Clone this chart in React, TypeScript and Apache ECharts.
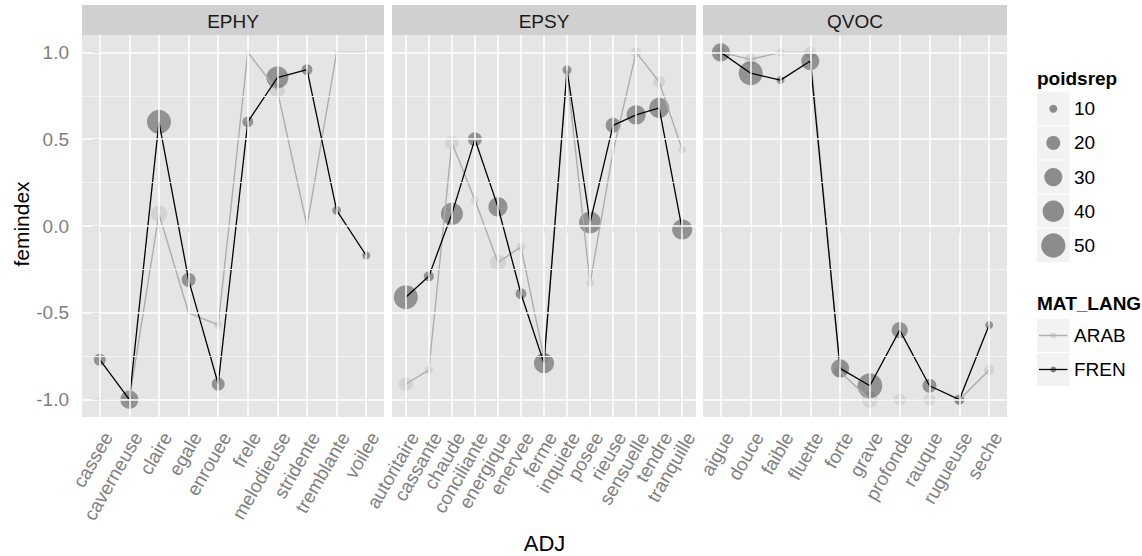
import React, { useEffect, useRef } from 'react';
import * as echarts from 'echarts';

// ---------- data ----------
const panelNames = ['EPHY', 'EPSY', 'QVOC'];
const langs = ['ARAB', 'FREN'];
const sizeBreaks = [10, 20, 30, 40, 50];
const yTicks = [-1, -0.5, 0, 0.5, 1];
const yMinor = [-0.75, -0.25, 0.25, 0.75];

const ephyCats = ['cassee', 'caverneuse', 'claire', 'egale', 'enrouee', 'frele', 'melodieuse', 'stridente', 'tremblante', 'voilee'];
const ephyFren = [-0.77, -1.0, 0.6, -0.31, -0.91, 0.6, 0.855, 0.9, 0.09, -0.17];
const ephyFrenW = [16, 30, 49, 20, 18, 14, 42, 14, 11, 10];
const ephyArab = [-1.0, -1.0, 0.07, -0.5, -0.57, 1.0, 0.78, 0.0, 1.0, 1.0];
const ephyArabW = [7, 10, 25, 7, 10, 7, 22, 7, 7, 6];

const epsyCats = ['autoritaire', 'cassante', 'chaude', 'conciliante', 'energique', 'enervee', 'ferme', 'inquiete', 'posee', 'rieuse', 'sensuelle', 'tendre', 'tranquille'];
const epsyFren = [-0.41, -0.29, 0.07, 0.5, 0.11, -0.39, -0.79, 0.9, 0.02, 0.58, 0.64, 0.68, -0.02];
const epsyFrenW = [49, 13, 42, 20, 33, 14, 36, 11, 42, 22, 33, 36, 36];
const epsyArab = [-0.91, -0.83, 0.48, 0.15, -0.21, -0.12, -0.76, 0.88, -0.33, 0.43, 1.0, 0.83, 0.44];
const epsyArabW = [20, 10, 20, 10, 25, 11, 13, 10, 10, 7, 13, 16, 10];

const qvocCats = ['aigue', 'douce', 'faible', 'fluette', 'forte', 'grave', 'profonde', 'rauque', 'rugueuse', 'seche'];
const qvocFren = [1.0, 0.88, 0.84, 0.95, -0.82, -0.92, -0.6, -0.92, -1.0, -0.57];
const qvocFrenW = [30, 49, 10, 30, 30, 52, 25, 20, 13, 10];
const qvocArab = [1.0, 0.96, 1.0, 1.0, -0.84, -1.0, -1.0, -1.0, -1.0, -0.83];
const qvocArabW = [13, 16, 10, 16, 16, 25, 16, 16, 13, 13];

// ---------- styling ----------
const FONT = '"Liberation Sans", Arial, sans-serif';
const panelBoxes = [
  { left: 82, width: 302 },
  { left: 392, width: 304 },
  { left: 703, width: 304 },
];
const PTOP = 35;
const PH = 382;
const lineColor: Record<string, string> = { ARAB: '#adadad', FREN: '#000000' };
const lineWidth: Record<string, number> = { ARAB: 1.4, FREN: 1.3 };
const pointColor: Record<string, string> = { ARAB: 'rgba(179,179,179,0.45)', FREN: 'rgba(0,0,0,0.45)' };
const sizeOf = (w: number) => Math.sqrt(Math.max(25, 64 + 13.15 * (w - 10)));

const panels = [
  { cats: ephyCats, FREN: ephyFren, FRENW: ephyFrenW, ARAB: ephyArab, ARABW: ephyArabW },
  { cats: epsyCats, FREN: epsyFren, FRENW: epsyFrenW, ARAB: epsyArab, ARABW: epsyArabW },
  { cats: qvocCats, FREN: qvocFren, FRENW: qvocFrenW, ARAB: qvocArab, ARABW: qvocArabW },
];

function buildOption() {
  const grid: any[] = [];
  const xAxis: any[] = [];
  const yAxis: any[] = [];
  const series: any[] = [];
  const graphic: any[] = [];

  panels.forEach((p: any, i) => {
    const box = panelBoxes[i];
    const idx = p.cats.map((_: string, j: number) => j);
    grid.push({ left: box.left, top: PTOP, width: box.width, height: PH, show: true, backgroundColor: '#e5e5e5', borderWidth: 0 });
    xAxis.push({
      type: 'value', gridIndex: i, min: -0.6, max: p.cats.length - 0.4,
      axisLine: { show: false },
      splitLine: { show: false },
      axisTick: { show: true, customValues: idx, length: 7, lineStyle: { color: '#7f7f7f', width: 1 } },
      axisLabel: {
        customValues: idx, rotate: 60, margin: 12, color: '#7f7f7f', fontSize: 19, fontFamily: FONT,
        verticalAlign: 'top',
        formatter: (v: number) => p.cats[Math.round(v)] ?? '',
      },
    });
    yAxis.push({
      type: 'value', gridIndex: i, min: -1.1, max: 1.1,
      axisLine: { show: false },
      splitLine: { show: false },
      axisTick: { show: i === 0, customValues: yTicks, length: 7, lineStyle: { color: '#7f7f7f', width: 1 } },
      axisLabel: {
        show: i === 0, customValues: yTicks, margin: 13, color: '#7f7f7f', fontSize: 19, fontFamily: FONT,
        formatter: (v: number) => v.toFixed(1),
      },
    });
    // grid lines
    series.push({
      type: 'line', xAxisIndex: i, yAxisIndex: i, data: [], silent: true, z: 1,
      markLine: {
        silent: true, symbol: ['none', 'none'], label: { show: false }, animation: false,
        emphasis: { disabled: true },
        data: yMinor.map((v) => ({ yAxis: v, lineStyle: { color: '#f2f2f2', width: 1, type: 'solid' } }))
          .concat(yTicks.map((v) => ({ yAxis: v, lineStyle: { color: '#ffffff', width: 1.5, type: 'solid' } })) as any)
          .concat(idx.map((v: number) => ({ xAxis: v, lineStyle: { color: '#ffffff', width: 1.5, type: 'solid' } })) as any),
      },
    });
    langs.forEach((lg) => {
      series.push({
        type: 'scatter', name: lg + ' pts', xAxisIndex: i, yAxisIndex: i, z: 2, silent: true,
        data: p.cats.map((_: string, j: number) => [j, p[lg][j], p[lg + 'W'][j]]),
        symbol: 'circle',
        symbolSize: (d: number[]) => sizeOf(d[2]),
        itemStyle: { color: pointColor[lg] },
        emphasis: { disabled: true },
      });
    });
    langs.forEach((lg, k) => {
      series.push({
        type: 'line', name: lg, xAxisIndex: i, yAxisIndex: i, z: 3 + k, silent: true,
        data: p.cats.map((_: string, j: number) => [j, p[lg][j]]),
        showSymbol: false, symbol: 'none',
        lineStyle: { color: lineColor[lg], width: lineWidth[lg] },
        emphasis: { disabled: true },
      });
    });
    // strip
    graphic.push({ type: 'rect', shape: { x: box.left, y: 5, width: box.width, height: 30 }, style: { fill: '#d0d0d0' }, silent: true });
    graphic.push({
      type: 'text', silent: true,
      style: { text: panelNames[i], x: box.left + box.width / 2, y: 21, textAlign: 'center', textVerticalAlign: 'middle', fill: '#1a1a1a', font: '19px ' + FONT },
    });
  });

  // axis titles
  graphic.push({ type: 'text', silent: true, style: { text: 'ADJ', x: 544.5, y: 543, textAlign: 'center', textVerticalAlign: 'middle', fill: '#000', font: '22px ' + FONT } });
  graphic.push({ type: 'text', silent: true, x: 21, y: 224, rotation: Math.PI / 2, style: { text: 'femindex', x: 0, y: 0, textAlign: 'center', textVerticalAlign: 'middle', fill: '#000', font: '21px ' + FONT } });

  // legend: size
  const LX = 1037;
  graphic.push({ type: 'text', silent: true, style: { text: 'poidsrep', x: LX, y: 78, textAlign: 'left', textVerticalAlign: 'middle', fill: '#000', font: 'bold 19px ' + FONT } });
  sizeBreaks.forEach((v, k) => {
    const cy = 108.7 + k * 34.2;
    graphic.push({ type: 'rect', silent: true, shape: { x: LX, y: cy - 16.5, width: 32.5, height: 33 }, style: { fill: '#f2f2f2' } });
    graphic.push({ type: 'circle', silent: true, shape: { cx: LX + 16.3, cy, r: sizeOf(v) / 2 }, style: { fill: 'rgba(0,0,0,0.42)' } });
    graphic.push({ type: 'text', silent: true, style: { text: String(v), x: LX + 37, y: cy, textAlign: 'left', textVerticalAlign: 'middle', fill: '#000', font: '19px ' + FONT } });
  });
  // legend: lang
  graphic.push({ type: 'text', silent: true, style: { text: 'MAT_LANG', x: LX, y: 303, textAlign: 'left', textVerticalAlign: 'middle', fill: '#000', font: 'bold 19px ' + FONT } });
  langs.forEach((lg, k) => {
    const cy = 335.5 + k * 34;
    graphic.push({ type: 'rect', silent: true, shape: { x: LX, y: cy - 16.5, width: 32.5, height: 33 }, style: { fill: '#f2f2f2' } });
    graphic.push({ type: 'line', silent: true, shape: { x1: LX + 2, y1: cy, x2: LX + 30.5, y2: cy }, style: { stroke: lineColor[lg], lineWidth: lineWidth[lg] } });
    graphic.push({ type: 'circle', silent: true, shape: { cx: LX + 16.3, cy, r: 3 }, style: { fill: pointColor[lg] } });
    graphic.push({ type: 'text', silent: true, style: { text: lg, x: LX + 37, y: cy, textAlign: 'left', textVerticalAlign: 'middle', fill: '#000', font: '19px ' + FONT } });
  });

  return {
    animation: false,
    backgroundColor: '#ffffff',
    textStyle: { fontFamily: FONT },
    grid, xAxis, yAxis, series, graphic,
  };
}

export default function App() {
  const ref = useRef<HTMLDivElement>(null);
  useEffect(() => {
    if (!ref.current) return;
    const chart = echarts.init(ref.current, undefined, { renderer: 'svg' });
    chart.setOption(buildOption() as any);
    return () => chart.dispose();
  }, []);
  return <div ref={ref} style={{ position: 'absolute', left: 0, top: 0, width: 1142, height: 556 }} />;
}
